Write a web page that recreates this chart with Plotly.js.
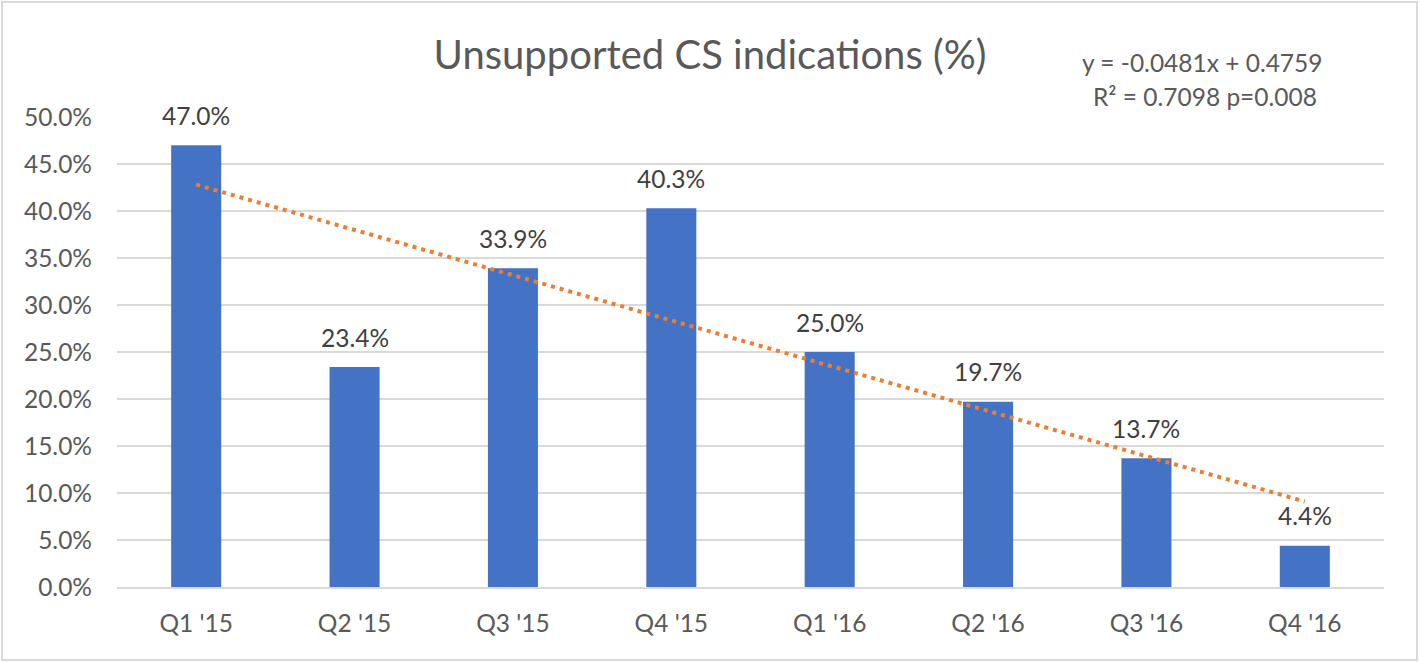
<!DOCTYPE html>
<html>
<head>
<meta charset="utf-8">
<script src="https://cdn.plot.ly/plotly-3.0.1.min.js"></script>
<style>
html,body{margin:0;padding:0;background:#fff;}
#chart{width:1420px;height:662px;}
</style>
</head>
<body>
<div id="chart"></div>
<script>
const categories = ["Q1 '15", "Q2 '15", "Q3 '15", "Q4 '15", "Q1 '16", "Q2 '16", "Q3 '16", "Q4 '16"];
const values = [0.470, 0.234, 0.339, 0.403, 0.250, 0.197, 0.137, 0.044];
const valueLabels = ["47.0%", "23.4%", "33.9%", "40.3%", "25.0%", "19.7%", "13.7%", "4.4%"];
const trendX = ["Q1 '15", "Q4 '16"];
const trendY = [0.428, 0.091];
const yTickVals = [0, 0.05, 0.10, 0.15, 0.20, 0.25, 0.30, 0.35, 0.40, 0.45, 0.50];
const yTickText = ["0.0%", "5.0%", "10.0%", "15.0%", "20.0%", "25.0%", "30.0%", "35.0%", "40.0%", "45.0%", "50.0%"];
const titleText = "Unsupported CS indications (%)";
const eqLine1 = "y = -0.0481x + 0.4759";
const eqLine2 = "R² = 0.7098 p=0.008";

const FONT = "Lato, 'Open Sans', sans-serif";

const bars = {
  type: 'bar',
  x: categories,
  y: values,
  marker: {color: '#4472C4'},
  hoverinfo: 'skip',
  showlegend: false
};
const trend = {
  type: 'scatter',
  mode: 'lines',
  x: trendX,
  y: trendY,
  line: {color: '#ED7D31', width: 4, dash: '4px,5px'},
  hoverinfo: 'skip',
  showlegend: false
};

const annotations = categories.map((c, i) => ({
  x: c, y: values[i], xref: 'x', yref: 'y',
  text: valueLabels[i], showarrow: false,
  yanchor: 'middle', yshift: 30,
  font: {family: FONT, size: 24.5, color: '#404040'}
}));
annotations.push({
  xref: 'paper', yref: 'paper', x: (1202 - 117) / 1267, y: (587 - 63) / 470,
  text: eqLine1, showarrow: false, xanchor: 'center', yanchor: 'middle',
  font: {family: FONT, size: 24.5, color: '#595959'}
});
annotations.push({
  xref: 'paper', yref: 'paper', x: (1205 - 117) / 1267, y: (587 - 96) / 470,
  text: eqLine2, showarrow: false, xanchor: 'center', yanchor: 'middle',
  font: {family: FONT, size: 24.5, color: '#595959'}
});

const layout = {
  width: 1420, height: 662,
  margin: {l: 117, r: 36, t: 117, b: 75},
  paper_bgcolor: '#ffffff',
  plot_bgcolor: '#ffffff',
  bargap: 0.684,
  title: {
    text: titleText,
    font: {family: FONT, size: 40, color: '#595959'},
    x: 0.5, xref: 'container', xanchor: 'center',
    y: 1 - 55/662, yref: 'container', yanchor: 'middle'
  },
  xaxis: {
    type: 'category',
    showgrid: false,
    showline: true, linecolor: '#d9d9d9', linewidth: 1.5,
    ticks: '', ticklabelstandoff: 14,
    tickfont: {family: FONT, size: 24.5, color: '#595959'},
    fixedrange: true
  },
  yaxis: {
    range: [0, 0.5],
    tickvals: yTickVals, ticktext: yTickText,
    showgrid: true, gridcolor: '#d9d9d9', gridwidth: 1.5,
    zeroline: false, showline: false,
    ticks: '', ticklabelstandoff: 24,
    tickfont: {family: FONT, size: 24.5, color: '#595959'},
    fixedrange: true
  },
  annotations: annotations,
  shapes: [{
    type: 'rect', xref: 'paper', yref: 'paper',
    x0: (2 - 117) / 1267, x1: (1417 - 117) / 1267,
    y0: (587 - 660) / 470, y1: (587 - 2) / 470,
    line: {color: '#d9d9d9', width: 2}, fillcolor: 'rgba(0,0,0,0)', layer: 'below'
  }]
};

Plotly.newPlot('chart', [bars, trend], layout, {displayModeBar: false, staticPlot: true});
</script>
</body>
</html>
